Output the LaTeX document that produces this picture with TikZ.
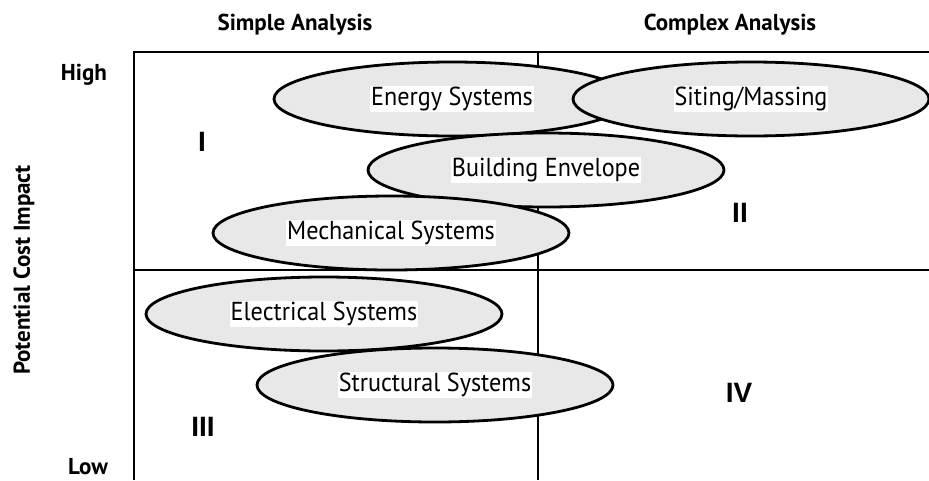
\documentclass[tikz,border=0pt]{standalone}
\usepackage{fontspec}
\setmainfont{PT Sans}
\newfontfamily\sysfont[FakeStretch=0.93]{PT Sans}
\newfontfamily\numfont{Liberation Sans}
\usetikzlibrary{shapes.geometric}

\tikzset{
 gridline/.style={line width=2.9pt},
 sysellipse/.style={ellipse, draw=black, line width=2.8pt, fill=black!9,
   minimum width=356pt, minimum height=74pt, inner sep=0pt},
 syslabel/.style={fill=white, inner sep=1pt, font=\sysfont\fontsize{26}{28}\selectfont},
 headlabel/.style={font=\fontsize{23}{25}\selectfont\bfseries},
 quadlabel/.style={font=\numfont\fontsize{28}{30}\selectfont\bfseries},
}

\begin{document}
\begin{tikzpicture}[x=1pt,y=-1pt]
\useasboundingbox (0,0) rectangle (929,480);
% quadrants
\draw[gridline] (134,480) -- (134,52) -- (929,52);
\draw[gridline] (538,52) -- (538,480);
\draw[gridline] (134,270) -- (929,270);

% axis texts
\node[headlabel] (simple) at (295,25) {Simple Analysis};
\node[headlabel] (complex) at (730,25) {Complex Analysis};
\node[headlabel] (high) at (84,75) {High};
\node[headlabel] (low) at (88,467) {Low};
\node[headlabel, rotate=90] (impact) at (24,270) {Potential Cost Impact};

% quadrant numbers
\node[quadlabel] (q1) at (202,142) {I};
\node[quadlabel] (q2) at (740,213) {II};
\node[quadlabel] (q3) at (203,427) {III};
\node[quadlabel] (q4) at (739,393) {IV};

% systems
\node[sysellipse] (energy) at (452,99) {};
\node[sysellipse] (envelope) at (546,170) {};
\node[sysellipse] (mechanical) at (391,233) {};
\node[sysellipse] (siting) at (751,99) {};
\node[sysellipse] (electrical) at (324,314) {};
\node[sysellipse] (structural) at (435,385) {};

\node[syslabel] (energytxt) at (energy) {Energy Systems};
\node[syslabel] (envelopetxt) at (envelope) {Building Envelope};
\node[syslabel] (mechanicaltxt) at (mechanical) {Mechanical Systems};
\node[syslabel] (sitingtxt) at (siting) {Siting/Massing};
\node[syslabel] (electricaltxt) at (electrical) {Electrical Systems};
\node[syslabel] (structuraltxt) at (structural) {Structural Systems};
\end{tikzpicture}
\end{document}
